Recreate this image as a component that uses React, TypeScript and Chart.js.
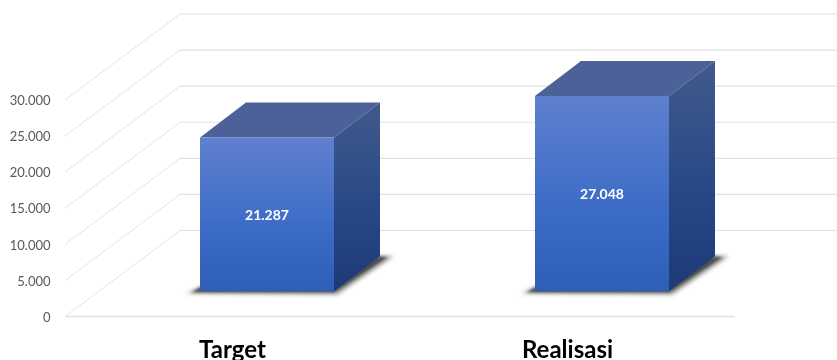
import { useEffect, useRef } from "react";
import { Chart, registerables } from "chart.js";

Chart.register(...registerables);

const categories = ["Target", "Realisasi"];
const amounts = [21287, 27048];
const axisMax = 30000;
const axisStep = 5000;

// Oblique projection used for the box faces and the back wall.
const WALL_SHIFT = { x: 115, y: -86 };
const BOX_SHIFT = { x: 34.5, y: -25.3 };
const BOX_DEPTH = { x: 46, y: -35 };

const GRID = "#e1e1e1";
const dotted = (v: number) => String(v).replace(/\B(?=(\d{3})+(?!\d))/g, ".");

const box3d = {
  id: "box3d",
  beforeDatasetsDraw(chart: any) {
    const { ctx, chartArea, scales } = chart;
    const y = scales.y;
    ctx.save();
    ctx.strokeStyle = GRID;
    for (const tick of y.ticks) {
      const py = y.getPixelForValue(tick.value);
      // Slanted side wall
      ctx.lineWidth = 0.9;
      ctx.beginPath();
      ctx.moveTo(chartArea.left, py);
      ctx.lineTo(chartArea.left + WALL_SHIFT.x, py + WALL_SHIFT.y);
      ctx.stroke();
      // Back wall
      ctx.lineWidth = 1.2;
      ctx.beginPath();
      ctx.moveTo(chartArea.left + WALL_SHIFT.x, py + WALL_SHIFT.y);
      ctx.lineTo(chart.width, py + WALL_SHIFT.y);
      ctx.stroke();
    }
    // Front edge of the floor
    ctx.lineWidth = 1.4;
    ctx.beginPath();
    ctx.moveTo(chartArea.left, chartArea.bottom);
    ctx.lineTo(chartArea.right, chartArea.bottom);
    ctx.stroke();
    ctx.restore();
  },
  beforeDatasetDraw(chart: any) {
    const { ctx } = chart;
    const meta = chart.getDatasetMeta(0);
    ctx.save();
    ctx.translate(BOX_SHIFT.x, BOX_SHIFT.y);
    for (const bar of meta.data) {
      const r = bar.x + bar.width / 2;
      const l = bar.x - bar.width / 2;
      const { y: top, base } = bar;

      // Cast shadow on the floor, with a soft lighter rim below the darker core
      ctx.save();
      ctx.filter = "blur(2px)";
      ctx.fillStyle = "rgba(80,80,80,0.7)";
      ctx.beginPath();
      ctx.moveTo(l - 13, base + 2);
      ctx.lineTo(l, base - 4);
      ctx.lineTo(r + BOX_DEPTH.x, base + BOX_DEPTH.y);
      ctx.lineTo(r + BOX_DEPTH.x + 13, base + BOX_DEPTH.y);
      ctx.lineTo(r + 3, base + 3);
      ctx.closePath();
      ctx.fill();
      ctx.filter = "blur(1px)";
      ctx.fillStyle = "rgba(40,40,40,0.6)";
      ctx.beginPath();
      ctx.moveTo(l - 8, base + 1);
      ctx.lineTo(l, base - 4);
      ctx.lineTo(r + BOX_DEPTH.x, base + BOX_DEPTH.y);
      ctx.lineTo(r + BOX_DEPTH.x + 7, base + BOX_DEPTH.y + 1);
      ctx.lineTo(r, base + 1);
      ctx.closePath();
      ctx.fill();
      ctx.restore();

      // Top face
      ctx.fillStyle = "#4b6197";
      ctx.beginPath();
      ctx.moveTo(l, top);
      ctx.lineTo(l + BOX_DEPTH.x, top + BOX_DEPTH.y);
      ctx.lineTo(r + BOX_DEPTH.x, top + BOX_DEPTH.y);
      ctx.lineTo(r, top);
      ctx.closePath();
      ctx.fill();

      // Right face
      const side = ctx.createLinearGradient(0, top + BOX_DEPTH.y, 0, base);
      side.addColorStop(0, "#415a8c");
      side.addColorStop(0.5, "#2a4a87");
      side.addColorStop(1, "#1c3a78");
      ctx.fillStyle = side;
      ctx.beginPath();
      ctx.moveTo(r, top);
      ctx.lineTo(r + BOX_DEPTH.x, top + BOX_DEPTH.y);
      ctx.lineTo(r + BOX_DEPTH.x, base + BOX_DEPTH.y);
      ctx.lineTo(r, base);
      ctx.closePath();
      ctx.fill();
    }
  },
  afterDatasetDraw(chart: any) {
    const { ctx } = chart;
    const meta = chart.getDatasetMeta(0);
    ctx.font = "bold 14px Lato";
    ctx.textAlign = "center";
    ctx.textBaseline = "middle";
    ctx.fillStyle = "#ffffff";
    meta.data.forEach((bar: any, i: number) => {
      ctx.fillText(dotted(amounts[i]), bar.x, (bar.y + bar.base) / 2 + 1);
    });
    ctx.restore();
  },
};

export default function App() {
  const ref = useRef<HTMLCanvasElement>(null);

  useEffect(() => {
    const chart = new Chart(ref.current!, {
      type: "bar",
      data: {
        labels: categories,
        datasets: [
          {
            data: amounts,
            clip: false,
            barPercentage: 0.4,
            categoryPercentage: 1,
            borderWidth: 0,
            backgroundColor: (c: any) => {
              const { chart: ch, raw } = c;
              const y = ch.scales.y;
              const fallback = "#3d6cc4";
              if (!y || typeof raw !== "number") return fallback;
              const y0 = y.getPixelForValue(raw);
              const y1 = y.getPixelForValue(0);
              if (!Number.isFinite(y0) || !Number.isFinite(y1)) return fallback;
              const g = ch.ctx.createLinearGradient(0, y0, 0, y1);
              g.addColorStop(0, "#5f80ce");
              g.addColorStop(0.6, "#3b6bc7");
              g.addColorStop(1, "#2e5eb6");
              return g;
            },
          },
        ],
      },
      options: {
        responsive: false,
        animation: false,
        events: [],
        layout: { padding: { left: 0, top: 100, right: 102, bottom: 0 } },
        plugins: { legend: { display: false }, tooltip: { enabled: false } },
        scales: {
          x: {
            grid: { display: false },
            border: { display: false },
            ticks: {
              padding: 11,
              color: "#000000",
              font: { family: "Lato", weight: "bold", size: 24 },
            },
            afterFit: (s: any) => {
              s.height = 43.5;
            },
          },
          y: {
            min: 0,
            max: axisMax,
            grid: { display: false, drawTicks: false },
            border: { display: false },
            ticks: {
              stepSize: axisStep,
              padding: 14.5,
              labelOffset: 1,
              color: "#595959",
              font: { family: "Lato", size: 13 },
              callback: (v: any) => dotted(Number(v)),
            },
            afterFit: (s: any) => {
              s.width = 65;
            },
          },
        },
      },
      plugins: [box3d],
    } as any);
    return () => chart.destroy();
  }, []);

  return (
    <div style={{ position: "absolute", left: 0, top: 0, width: 837, height: 360, overflow: "hidden", background: "#fff" }}>
      <canvas ref={ref} width={837} height={360} style={{ display: "block" }} />
    </div>
  );
}
